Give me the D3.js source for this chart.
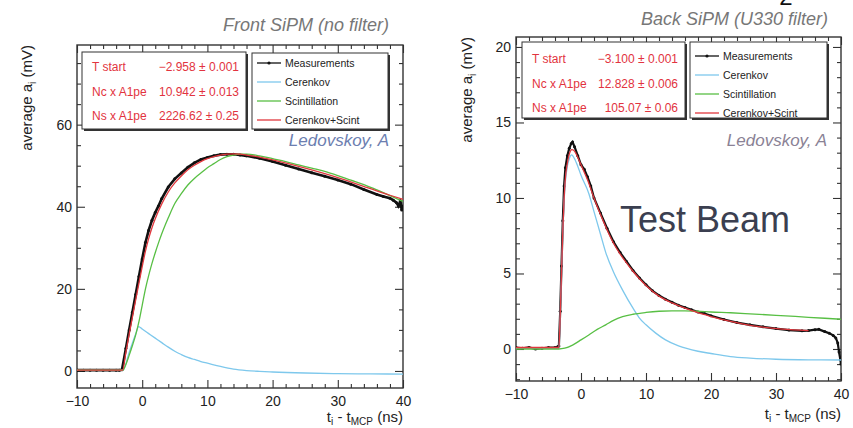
<!DOCTYPE html>
<html>
<head>
<meta charset="utf-8">
<script src="https://cdn.jsdelivr.net/npm/d3@7"></script>
<style>
  body { margin: 0; background: #fff; }
  svg text { font-family: "Liberation Sans", Arial, sans-serif; }
</style>
</head>
<body>
<svg id="chart" width="853" height="428"></svg>
<script>
// ---- data ----
// Front SiPM (no filter)
const frontMeasT = [-10,-9,-8,-7,-6,-5,-4,-3.5,-3.1,-2.5,-2,-1.5,-1,-0.5,0,0.5,1,1.5,2,2.5,3,4,5,6,7,8,9,10,11,12,13,14,15,16,18,20,22,24,26,28,30,32,34,36,37,38,38.5,39,39.3,39.6,39.8,40];
const frontMeas  = [0.2,0.2,0.2,0.2,0.2,0.2,0.2,0.2,0.3,5.5,10,14.3,18.6,23,27.3,31.3,34.3,36.7,38.6,40.2,42,44.8,46.8,48.2,49.6,50.7,51.5,52.0,52.4,52.7,52.8,52.8,52.6,52.4,51.8,51.0,50.1,49.2,48.3,47.4,46.5,45.5,44.2,43.0,42.5,42.1,41.6,41.0,40.2,41.5,39.2,40.2];
const frontCerT  = [-10,-2.96,-2,-1,-0.55,0,1,2,3,4,5,6,7,8,9,10,12,14,16,18,20,25,30,35,40];
const frontCer   = [0.2,0.2,4.5,9,10.8,10.2,9.1,8.0,6.9,5.8,4.8,4.0,3.3,2.8,2.3,1.9,1.1,0.45,0.1,-0.1,-0.25,-0.5,-0.65,-0.72,-0.75];
const frontSciT  = [-10,-2.95,-2.5,-2,-1.5,-1,-0.5,0,0.5,1,1.5,2,2.5,3,4,5,6,7,8,9,10,11,12,13,14,15,16,18,20,22,24,26,28,30,32,34,36,38,40];
const frontSci   = [0.2,0.2,1.6,3.8,6.2,8.8,12,16,20,23.3,26.2,28.8,31.2,33.4,37.3,40.8,43.2,45.3,46.9,48.2,49.5,50.5,51.5,52.2,52.6,52.8,52.8,52.4,51.7,51,50.2,49.4,48.6,47.6,46.5,45.4,44.1,42.7,41.3];
const frontFitT  = [-10,-3,-2.5,-2,-1.5,-1,-0.5,0,0.5,1,1.5,2,3,4,5,6,7,8,9,10,11,12,13,14,15,16,18,20,25,30,35,38,40];
const frontFit   = [0.2,0.2,4.6,8.9,13.1,17.3,21.4,25.4,29.2,32.3,34.9,37.1,40.7,43.6,45.8,47.5,49.0,50.1,51.0,51.7,52.2,52.6,52.8,52.9,52.8,52.6,52.1,51.4,49.4,47.1,44.4,42.8,41.8];

// Back SiPM (U330 filter)
const backMeasT = [-10,-9,-8,-7,-6,-5,-4,-3.6,-3.4,-3.2,-3.0,-2.8,-2.6,-2.4,-2.1,-1.8,-1.5,-1.3,-1.0,-0.5,0,0.5,1,1.5,2,3,4,5,6,7,8,9,10,11,12,13,14,15,16,17,18,19,20,22,24,26,28,30,32,34,35,36,36.6,37.5,38.2,38.8,39.2,39.5,39.7,39.9,40];
const backMeas  = [0.1,0.05,0.1,0.0,0.05,0.1,0.1,0.15,0.2,2.5,5.5,8.5,10.8,12.0,12.8,13.3,13.6,13.7,13.4,12.8,12.2,11.9,11.4,10.8,10.0,9.0,8.0,7.1,6.4,5.8,5.2,4.7,4.25,3.85,3.55,3.3,3.1,2.9,2.75,2.6,2.45,2.35,2.2,1.95,1.75,1.6,1.47,1.35,1.25,1.2,1.22,1.28,1.3,1.15,1.04,0.9,0.73,0.4,-0.2,-0.7,-1.0];
const backCerT  = [-10,-3.4,-3.2,-3,-2.8,-2.6,-2.4,-2.1,-1.8,-1.45,-1,-0.5,0,1.2,2,3,3.8,5,6.4,8,8.9,10,11.5,13,15,18,20,23,26,30,35,40];
const backCer   = [0.05,0.05,2.2,5,7.8,9.8,11.1,12.1,12.6,12.85,12.6,12.1,11.5,10.3,9.1,7.6,6.4,5.1,3.9,2.7,2.1,1.6,1.05,0.6,0.2,-0.15,-0.3,-0.5,-0.6,-0.68,-0.72,-0.73];
const backSciT  = [-10,-3.4,-2.5,-1.3,0,1.2,2.5,3.8,5,6.4,8,10,12,14,16,18,20,23,26,30,35,40];
const backSci   = [0,0,0.05,0.26,0.6,0.93,1.3,1.6,1.9,2.14,2.3,2.42,2.5,2.53,2.53,2.5,2.45,2.4,2.33,2.23,2.1,1.97];
const backFitT  = [-10,-3.4,-3.2,-3,-2.8,-2.6,-2.4,-2.1,-1.8,-1.4,-1,-0.5,0,1,2,3,4,5,6,7,8,9,10,12,14,16,18,20,22,25,28,31,35];
const backFit   = [0.1,0.1,2.2,5.0,7.8,9.9,11.3,12.3,12.9,13.2,13.1,12.7,12.2,11.2,10.0,8.9,7.9,7.0,6.3,5.7,5.15,4.65,4.2,3.5,3.05,2.7,2.4,2.15,1.92,1.65,1.45,1.32,1.22];

// axis ticks
const xMajor = [-10, 0, 10, 20, 30, 40];
const frontYMajor = [0, 20, 40, 60];
const backYMajor = [0, 5, 10, 15, 20];

// stats box + legend text
const statNames = ["T start", "Nc x A1pe", "Ns x A1pe"];
const frontStats = ["\u22122.958 \u00b1 0.001", "10.942 \u00b1 0.013", "2226.62 \u00b1 0.25"];
const backStats  = ["\u22123.100 \u00b1 0.001", "12.828 \u00b1 0.006", "105.07 \u00b1 0.06"];
const legendNames = ["Measurements", "Cerenkov", "Scintillation", "Cerenkov+Scint"];

const COL = {meas: "#111", cer: "#7ec8ec", sci: "#58bf44", fit: "#e0373d", stat: "#e23340"};
const SVG = d3.select("#chart");

function zip(t, v) { return t.map((d, i) => [d, v[i]]); }

function drawPanel(p, idx) {
  const X = d3.scaleLinear().domain([-10, 40]).range([p.left, p.right]);
  const Y = d3.scaleLinear().domain(p.yDomain).range([p.bottom, p.top]);
  const g = SVG.append("g");

  g.append("clipPath").attr("id", "clip" + idx)
    .append("rect").attr("x", p.left).attr("y", p.top)
    .attr("width", p.right - p.left).attr("height", p.bottom - p.top);

  // ticks on all four sides, inside the frame
  const xMinor = d3.range(-10, 41, 2).filter(d => d % 10 !== 0);
  const yMinor = d3.range(Math.ceil(p.yDomain[0] / p.yMinorStep) * p.yMinorStep, p.yDomain[1], p.yMinorStep)
                   .filter(d => !p.yMajor.includes(d));

  const axes = [
    [d3.axisBottom(X).tickValues(xMajor).tickSize(-8).tickPadding(8).tickFormat(d => d < 0 ? "\u2212" + (-d) : d), "translate(0," + p.bottom + ")"],
    [d3.axisBottom(X).tickValues(xMinor).tickSize(-4).tickFormat(""), "translate(0," + p.bottom + ")"],
    [d3.axisTop(X).tickValues(xMajor).tickSize(-8).tickFormat(""), "translate(0," + p.top + ")"],
    [d3.axisTop(X).tickValues(xMinor).tickSize(-4).tickFormat(""), "translate(0," + p.top + ")"],
    [d3.axisLeft(Y).tickValues(p.yMajor).tickSize(-8).tickPadding(5), "translate(" + p.left + ",0)"],
    [d3.axisLeft(Y).tickValues(yMinor).tickSize(-4).tickFormat(""), "translate(" + p.left + ",0)"],
    [d3.axisRight(Y).tickValues(p.yMajor).tickSize(-8).tickFormat(""), "translate(" + p.right + ",0)"],
    [d3.axisRight(Y).tickValues(yMinor).tickSize(-4).tickFormat(""), "translate(" + p.right + ",0)"]
  ];
  axes.forEach(a => {
    const ag = g.append("g").attr("transform", a[1]).call(a[0]);
    ag.select(".domain").remove();
    ag.selectAll("line").attr("stroke", "#333").attr("stroke-width", 1.1);
    ag.selectAll("text").attr("font-size", 14).attr("fill", "#222")
      .attr("font-family", "Liberation Sans, Arial, sans-serif");
  });

  g.append("rect").attr("x", p.left).attr("y", p.top)
    .attr("width", p.right - p.left).attr("height", p.bottom - p.top)
    .attr("fill", "none").attr("stroke", "#333").attr("stroke-width", 1.4);

  // curves
  const plot = g.append("g").attr("clip-path", "url(#clip" + idx + ")");
  const lineLin = d3.line().x(d => X(d[0])).y(d => Y(d[1]));
  const lineSmooth = d3.line().x(d => X(d[0])).y(d => Y(d[1])).curve(d3.curveMonotoneX);
  const meas = zip(p.measT, p.meas);

  plot.append("path").datum(meas).attr("d", lineLin)
    .attr("fill", "none").attr("stroke", COL.meas).attr("stroke-width", p.measWidth);
  plot.selectAll(".dot").data(meas).join("circle").attr("class", "dot")
    .attr("cx", d => X(d[0])).attr("cy", d => Y(d[1])).attr("r", 1.5).attr("fill", COL.meas);

  [[p.cerT, p.cer, COL.cer], [p.sciT, p.sci, COL.sci], [p.fitT, p.fit, COL.fit]].forEach(s => {
    plot.append("path").datum(zip(s[0], s[1])).attr("d", lineSmooth)
      .attr("fill", "none").attr("stroke", s[2]).attr("stroke-width", 1.3);
  });

  // stats box (with shadow)
  const sb = p.stats;
  g.append("rect").attr("x", sb.x + 2).attr("y", sb.y + 2).attr("width", sb.w).attr("height", sb.h).attr("fill", "#333");
  g.append("rect").attr("x", sb.x).attr("y", sb.y).attr("width", sb.w).attr("height", sb.h)
    .attr("fill", "#fff").attr("stroke", "#333").attr("stroke-width", 1);
  statNames.forEach((n, i) => {
    const yy = sb.y + sb.row0 + i * sb.rowGap;
    g.append("text").attr("x", sb.x + 10).attr("y", yy).attr("font-size", 12).attr("fill", COL.stat).text(n);
    g.append("text").attr("x", sb.x + sb.w - 7).attr("y", yy).attr("font-size", 12)
      .attr("text-anchor", "end").attr("fill", COL.stat).text(p.statVals[i]);
  });

  // legend box (with shadow)
  const lb = p.legend;
  g.append("rect").attr("x", lb.x + 2).attr("y", lb.y + 2).attr("width", lb.w).attr("height", lb.h).attr("fill", "#333");
  g.append("rect").attr("x", lb.x).attr("y", lb.y).attr("width", lb.w).attr("height", lb.h)
    .attr("fill", "#fff").attr("stroke", "#333").attr("stroke-width", 1);
  const legCols = [COL.meas, COL.cer, COL.sci, COL.fit];
  legendNames.forEach((n, i) => {
    const yy = lb.y + lb.row0 + i * lb.rowGap;
    g.append("line").attr("x1", lb.x + 5).attr("x2", lb.x + 29).attr("y1", yy).attr("y2", yy)
      .attr("stroke", legCols[i]).attr("stroke-width", 1.3);
    if (i === 0) g.append("circle").attr("cx", lb.x + 17).attr("cy", yy).attr("r", 1.6).attr("fill", COL.meas);
    g.append("text").attr("x", lb.x + 33).attr("y", yy + 3.7).attr("font-size", 10.5).attr("fill", "#222").text(n);
  });

  // author tag
  g.append("text").attr("x", p.right - 14).attr("y", p.authorY).attr("text-anchor", "end")
    .attr("font-size", 17).attr("font-style", "italic").attr("fill", p.authorColor).text("Ledovskoy, A");

  // panel title
  g.append("text").attr("x", p.titleX).attr("y", p.titleY).attr("text-anchor", "end")
    .attr("font-size", 18).attr("font-style", "italic").attr("fill", "#777").text(p.title);

  // y title
  const yt = g.append("text").attr("text-anchor", "end").attr("font-size", 15).attr("fill", "#222")
    .attr("transform", "translate(" + p.yTitleX + "," + p.top + ") rotate(-90)");
  yt.append("tspan").text("average a");
  yt.append("tspan").attr("font-size", 10).attr("dy", 4).text("i");
  yt.append("tspan").attr("dy", -4).text(" (mV)");

  // x title
  const xt = g.append("text").attr("x", p.right).attr("y", p.xTitleY).attr("text-anchor", "end")
    .attr("font-size", 15).attr("fill", "#222");
  xt.append("tspan").text("t");
  xt.append("tspan").attr("font-size", 10).attr("dy", 3).text("i");
  xt.append("tspan").attr("dy", -3).text(" - t");
  xt.append("tspan").attr("font-size", 10).attr("dy", 3).text("MCP");
  xt.append("tspan").attr("dy", -3).text(" (ns)");
}

drawPanel({
  left: 77, right: 403, top: 45, bottom: 388, yDomain: [-4.15, 79.4],
  yMajor: frontYMajor, yMinorStep: 5,
  measT: frontMeasT, meas: frontMeas, cerT: frontCerT, cer: frontCer,
  sciT: frontSciT, sci: frontSci, fitT: frontFitT, fit: frontFit, measWidth: 2.6,
  stats: {x: 82, y: 52, w: 164, h: 77, row0: 19, rowGap: 24.5}, statVals: frontStats,
  legend: {x: 252, y: 53, w: 136, h: 76, row0: 10, rowGap: 19},
  authorY: 146, authorColor: "#6c7eb0",
  title: "Front SiPM (no filter)", titleX: 389, titleY: 31,
  yTitleX: 32, xTitleY: 422
}, 0);

drawPanel({
  left: 516, right: 841, top: 37, bottom: 381, yDomain: [-2.12, 20.66],
  yMajor: backYMajor, yMinorStep: 1,
  measT: backMeasT, meas: backMeas, cerT: backCerT, cer: backCer,
  sciT: backSciT, sci: backSci, fitT: backFitT, fit: backFit, measWidth: 2.2,
  stats: {x: 522, y: 42, w: 163, h: 76, row0: 21, rowGap: 24.5}, statVals: backStats,
  legend: {x: 690, y: 42, w: 137, h: 76, row0: 14, rowGap: 19},
  authorY: 146, authorColor: "#8a8295",
  title: "Back SiPM (U330 filter)", titleX: 828, titleY: 25,
  yTitleX: 472, xTitleY: 419
}, 1);

// overlay label and cut-off slide number (cut at the top edge, as in the source slide)
SVG.append("text").attr("x", 620).attr("y", 232).attr("font-size", 36).attr("fill", "#3b3f50").text("Test Beam");
SVG.append("text").attr("x", 786).attr("y", 5).attr("text-anchor", "middle").attr("font-size", 24).attr("fill", "#111").text("2");
</script>
</body>
</html>
